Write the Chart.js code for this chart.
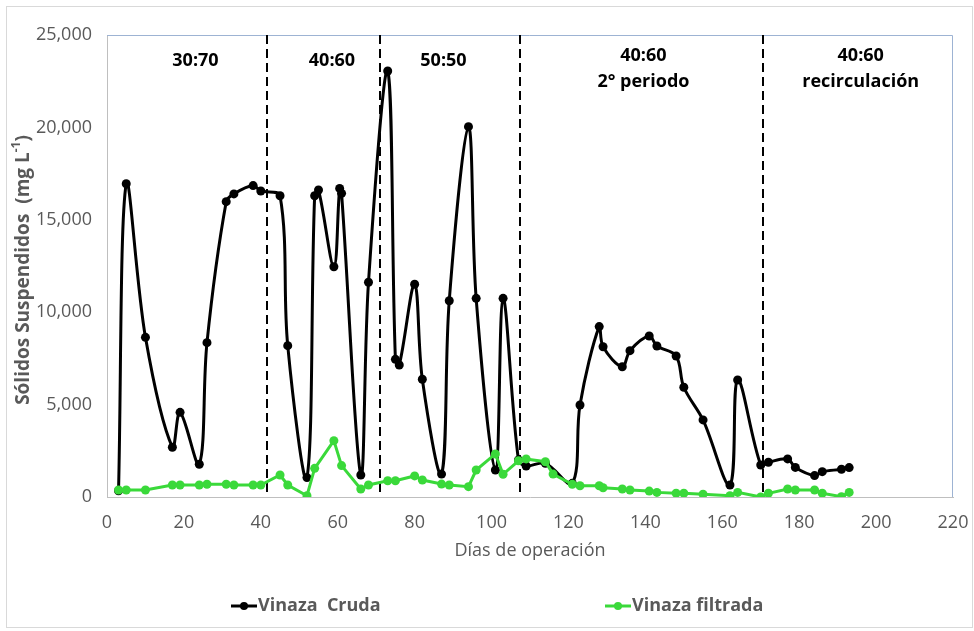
<!DOCTYPE html>
<html>
<head>
<meta charset="utf-8">
<script src="https://cdn.jsdelivr.net/npm/chart.js@4.4.0/dist/chart.umd.min.js"></script>
<style>
  html, body { margin: 0; padding: 0; background: #fff; }
</style>
</head>
<body>
<canvas id="chartSS" width="974" height="631"></canvas>
<script>
// Vinaza cruda (mg/L) por día de operación
var diasCruda = [3, 5, 10, 17, 19, 24, 26, 31, 33, 38, 40, 45, 47, 52, 54, 55, 59, 60.5, 61, 66, 68, 73, 75, 76,
                 80, 82, 87, 89, 94, 96, 101, 103, 107, 109, 114, 121, 123, 128, 129, 134, 136, 141, 143, 148,
                 150, 155, 162, 164, 170, 172, 177, 179, 184, 186, 191, 193];
var cruda = [340, 16950, 8640, 2690, 4580, 1770, 8350, 15980, 16400, 16850, 16560, 16300, 8190, 1050, 16300, 16610,
             12460, 16700, 16430, 1190, 11620, 23050, 7450, 7140, 11510, 6370, 1240, 10620, 20040, 10750, 1460,
             10750, 2000, 1680, 1820, 740, 4980, 9220, 8130, 7050, 7920, 8710, 8170, 7630, 5940, 4170, 650, 6330,
             1730, 1880, 2060, 1600, 1160, 1370, 1500, 1590];

// Vinaza filtrada
var diasFiltrada = [3, 5, 10, 17, 19, 24, 26, 31, 33, 38, 40, 45, 47, 52, 54, 59, 61, 66, 68, 73, 75, 80, 82, 87,
                    89, 94, 96, 101, 103, 107, 109, 114, 116, 121, 123, 128, 129, 134, 136, 141, 143, 148, 150,
                    155, 162, 164, 170, 172, 177, 179, 184, 186, 191, 193];
var filtrada = [380, 380, 380, 650, 650, 650, 690, 690, 650, 650, 650, 1190, 650, 70, 1550, 3050, 1700, 430, 650,
                880, 880, 1140, 920, 700, 650, 560, 1460, 2330, 1230, 1960, 2060, 1910, 1240, 690, 610, 610, 500,
                430, 380, 320, 250, 200, 200, 150, 70, 250, 0, 200, 430, 380, 380, 200, 20, 250];

// cambios de etapa (días) y nombres de cada etapa
var cambios = [41.5, 71, 107.5, 170.5];
var etapas = [['30:70'], ['40:60'], ['50:50'], ['40:60', '2° periodo'], ['40:60', 'recirculación']];

var ticksX = [0, 20, 40, 60, 80, 100, 120, 140, 160, 180, 200, 220];
var ticksY = [0, 5000, 10000, 15000, 20000, 25000];

var colorCruda = '#000000';
var colorFiltrada = '#3ad93a';
var gris = '#595959';

function pares(xs, ys) {
    return xs.map(function (x, i) { return { x: x, y: ys[i] }; });
}

var extras = {
    id: 'extras',
    beforeDatasetsDraw: function (chart) {
        var ctx = chart.ctx, a = chart.chartArea, xs = chart.scales.x;
        ctx.save();
        // marco superior y derecho
        ctx.strokeStyle = '#9db3d3';
        ctx.lineWidth = 1;
        ctx.beginPath();
        ctx.moveTo(a.left, a.top + 0.5);
        ctx.lineTo(a.right - 0.5, a.top + 0.5);
        ctx.lineTo(a.right - 0.5, a.bottom);
        ctx.stroke();
        // lineas de cambio de etapa
        ctx.strokeStyle = '#000';
        ctx.lineWidth = 2;
        ctx.setLineDash([9, 5]);
        cambios.forEach(function (d) {
            var px = Math.round(xs.getPixelForValue(d));
            ctx.beginPath();
            ctx.moveTo(px, a.top);
            ctx.lineTo(px, a.bottom);
            ctx.stroke();
        });
        ctx.restore();
    },
    afterDraw: function (chart) {
        var ctx = chart.ctx, a = chart.chartArea, xs = chart.scales.x;
        ctx.save();

        // marco exterior
        ctx.strokeStyle = '#d9d9d9';
        ctx.lineWidth = 1;
        ctx.strokeRect(6.5, 6.5, 966, 621);

        // nombres de etapas
        var centros = [23, 58.5, 87.5, 139.5, 196];
        ctx.fillStyle = '#000';
        ctx.font = 'bold 18px "Open Sans"';
        ctx.textAlign = 'center';
        ctx.textBaseline = 'middle';
        etapas.forEach(function (lineas, i) {
            var px = xs.getPixelForValue(centros[i]);
            var y0 = lineas.length > 1 ? a.top + 21 : a.top + 26;
            lineas.forEach(function (t, j) {
                ctx.fillText(t, px, y0 + j * 26);
            });
        });

        // titulo eje Y con superindice
        ctx.fillStyle = gris;
        ctx.save();
        ctx.translate(24, 270);
        ctx.rotate(-Math.PI / 2);
        var p1 = 'Sólidos Suspendidos  (mg L', p2 = '-1', p3 = ')';
        ctx.font = 'bold 19px "Open Sans"';
        var w1 = ctx.measureText(p1).width, w3 = ctx.measureText(p3).width;
        ctx.font = 'bold 12px "Open Sans"';
        var w2 = ctx.measureText(p2).width;
        var x0 = -(w1 + w2 + w3) / 2;
        ctx.textAlign = 'left';
        ctx.font = 'bold 19px "Open Sans"';
        ctx.fillText(p1, x0, 0);
        ctx.font = 'bold 12px "Open Sans"';
        ctx.fillText(p2, x0 + w1, -7);
        ctx.font = 'bold 19px "Open Sans"';
        ctx.fillText(p3, x0 + w1 + w2, 0);
        ctx.restore();

        // titulo eje X
        ctx.font = '18px "Open Sans"';
        ctx.textAlign = 'center';
        ctx.fillText('Días de operación', (a.left + a.right) / 2, 551);

        // leyenda
        var items = [
            { texto: 'Vinaza  Cruda', color: colorCruda, x: 231 },
            { texto: 'Vinaza filtrada', color: colorFiltrada, x: 605 }
        ];
        ctx.font = 'bold 18px "Open Sans"';
        ctx.textAlign = 'left';
        items.forEach(function (it) {
            var y = 606;
            ctx.strokeStyle = it.color;
            ctx.fillStyle = it.color;
            ctx.lineWidth = 3;
            ctx.beginPath();
            ctx.moveTo(it.x, y);
            ctx.lineTo(it.x + 26, y);
            ctx.stroke();
            ctx.beginPath();
            ctx.arc(it.x + 13, y, 4, 0, Math.PI * 2);
            ctx.fill();
            ctx.fillStyle = gris;
            ctx.fillText(it.texto, it.x + 27, y);
        });
        ctx.restore();
    }
};

Chart.defaults.font.family = '"Open Sans", sans-serif';
Chart.defaults.color = gris;

new Chart(document.getElementById('chartSS'), {
    type: 'line',
    data: {
        datasets: [
            {
                label: 'Vinaza  Cruda',
                data: pares(diasCruda, cruda),
                borderColor: colorCruda,
                backgroundColor: colorCruda,
                borderWidth: 3,
                pointRadius: 4.5,
                pointBorderWidth: 0,
                tension: 0.35,
                order: 2
            },
            {
                label: 'Vinaza filtrada',
                data: pares(diasFiltrada, filtrada),
                borderColor: colorFiltrada,
                backgroundColor: colorFiltrada,
                borderWidth: 3,
                pointRadius: 4.5,
                pointBorderWidth: 0,
                tension: 0,
                order: 1
            }
        ]
    },
    options: {
        responsive: false,
        animation: false,
        layout: { padding: { top: 35, right: 21, left: 0, bottom: 0 } },
        plugins: {
            legend: { display: false },
            tooltip: { enabled: false }
        },
        scales: {
            x: {
                type: 'linear',
                min: 0,
                max: 220,
                afterBuildTicks: function (scale) {
                    scale.ticks = ticksX.map(function (v) { return { value: v }; });
                },
                afterFit: function (scale) {
                    scale.height = 134;
                    scale.paddingLeft = 0;
                    scale.paddingRight = 0;
                },
                grid: { display: false, drawTicks: false },
                border: { display: true, color: '#bfbfbf', width: 1 },
                ticks: { padding: 15, maxRotation: 0, font: { size: 18 }, color: gris }
            },
            y: {
                min: 0,
                max: 25000,
                afterBuildTicks: function (scale) {
                    scale.ticks = ticksY.map(function (v) { return { value: v }; });
                },
                afterFit: function (scale) { scale.width = 107; },
                grid: { display: false, drawTicks: false },
                border: { display: true, color: '#bfbfbf', width: 1 },
                ticks: {
                    padding: 15,
                    font: { size: 18 },
                    color: gris,
                    callback: function (v) { return v.toLocaleString('en-US'); }
                }
            }
        }
    },
    plugins: [extras]
});
</script>
</body>
</html>
